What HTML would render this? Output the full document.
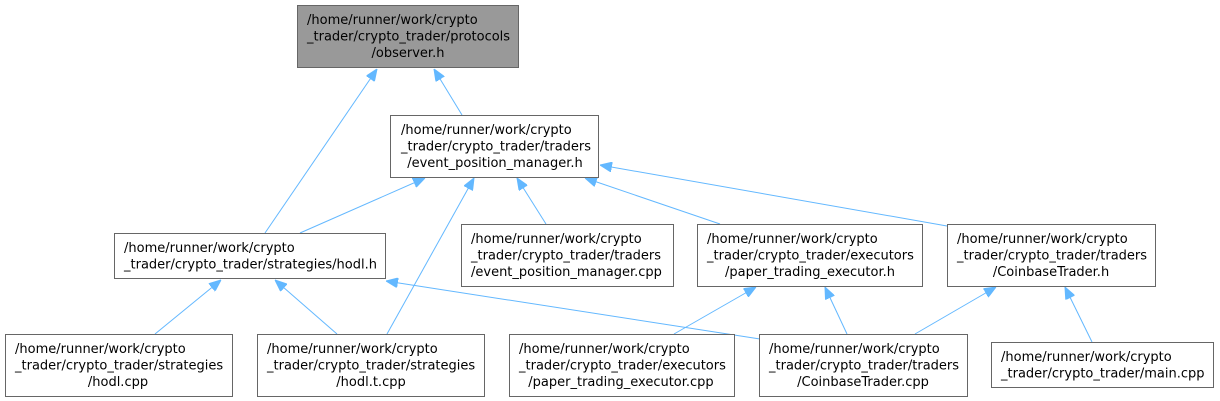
<!DOCTYPE html>
<html><head><meta charset="utf-8"><style>
html,body{margin:0;padding:0;background:#fff;}
svg{display:block;}
text{font-family:"DejaVu Sans","Liberation Sans",sans-serif;font-size:13px;fill:#000;}
.b{fill:#fff;stroke:#666;stroke-width:1;}
.e{stroke:#63b8ff;stroke-width:1;fill:none;marker-end:url(#a);}
</style></head><body>
<svg width="1220" height="401" viewBox="0 0 1220 401" xmlns="http://www.w3.org/2000/svg">
<defs><marker id="a" viewBox="0 0 12 10" refX="12" refY="5" markerWidth="12" markerHeight="10" markerUnits="userSpaceOnUse" orient="auto"><path d="M0,0L12,5L0,10z" fill="#63b8ff" stroke="#63b8ff"/></marker></defs>

<path class="e" d="M265,233L377,69"/>
<path class="e" d="M462,115L434,69"/>
<path class="e" d="M300,233L425,178"/>
<path class="e" d="M387,334L474,178"/>
<path class="e" d="M546,224L517,178"/>
<path class="e" d="M720,224L585,178"/>
<path class="e" d="M947,226L600,165"/>
<path class="e" d="M155,334L221,280"/>
<path class="e" d="M337,334L275,280"/>
<path class="e" d="M760,339L386,281"/>
<path class="e" d="M674,334L756,287"/>
<path class="e" d="M847,334L825,287"/>
<path class="e" d="M915,334L996,287"/>
<path class="e" d="M1092,342L1065,287"/>

<rect x="297.5" y="5.5" width="221" height="62" fill="#999" stroke="#666"/>
<text x="307" y="24">/home/runner/work/crypto</text>
<text x="307" y="40.5">_trader/crypto_trader/protocols</text>
<text x="408" y="57" text-anchor="middle">/observer.h</text>

<rect class="b" x="390.5" y="115.5" width="208" height="62"/>
<text x="401" y="134">/home/runner/work/crypto</text>
<text x="401" y="150.5">_trader/crypto_trader/traders</text>
<text x="495" y="167" text-anchor="middle">/event_position_manager.h</text>

<rect class="b" x="114.5" y="233.5" width="271" height="45"/>
<text x="124" y="252">/home/runner/work/crypto</text>
<text x="124" y="268.5">_trader/crypto_trader/strategies/hodl.h</text>

<rect class="b" x="461.5" y="224.5" width="212" height="62"/>
<text x="471" y="243">/home/runner/work/crypto</text>
<text x="471" y="259.5">_trader/crypto_trader/traders</text>
<text x="471" y="276">/event_position_manager.cpp</text>

<rect class="b" x="697.5" y="224.5" width="225" height="62"/>
<text x="707" y="243">/home/runner/work/crypto</text>
<text x="707" y="259.5">_trader/crypto_trader/executors</text>
<text x="810" y="276" text-anchor="middle">/paper_trading_executor.h</text>

<rect class="b" x="947.5" y="224.5" width="208" height="62"/>
<text x="957" y="243">/home/runner/work/crypto</text>
<text x="957" y="259.5">_trader/crypto_trader/traders</text>
<text x="1051" y="276" text-anchor="middle">/CoinbaseTrader.h</text>

<rect class="b" x="5.5" y="334.5" width="227" height="62"/>
<text x="15" y="353">/home/runner/work/crypto</text>
<text x="15" y="369.5">_trader/crypto_trader/strategies</text>
<text x="118" y="386" text-anchor="middle">/hodl.cpp</text>

<rect class="b" x="257.5" y="334.5" width="227" height="62"/>
<text x="267" y="353">/home/runner/work/crypto</text>
<text x="267" y="369.5">_trader/crypto_trader/strategies</text>
<text x="371" y="386" text-anchor="middle">/hodl.t.cpp</text>

<rect class="b" x="509.5" y="334.5" width="225" height="62"/>
<text x="519" y="353">/home/runner/work/crypto</text>
<text x="519" y="369.5">_trader/crypto_trader/executors</text>
<text x="621" y="386" text-anchor="middle">/paper_trading_executor.cpp</text>

<rect class="b" x="759.5" y="334.5" width="208" height="62"/>
<text x="769" y="353">/home/runner/work/crypto</text>
<text x="769" y="369.5">_trader/crypto_trader/traders</text>
<text x="863" y="386" text-anchor="middle">/CoinbaseTrader.cpp</text>

<rect class="b" x="991.5" y="342.5" width="222" height="45"/>
<text x="1001" y="361">/home/runner/work/crypto</text>
<text x="1001" y="377.5">_trader/crypto_trader/main.cpp</text>
</svg>
</body></html>
